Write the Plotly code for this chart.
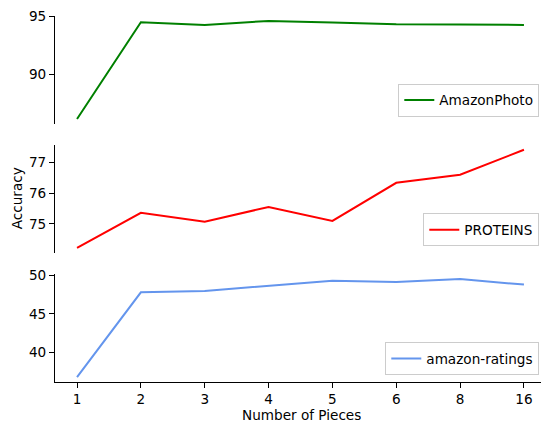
import plotly.graph_objects as go

pieces = ["1", "2", "3", "4", "5", "6", "8", "16"]
amazon_photo = [86.08, 94.51, 94.28, 94.63, 94.50, 94.34, 94.31, 94.28]
proteins = [74.23, 75.36, 75.07, 75.55, 75.10, 76.33, 76.59, 77.40]
amazon_ratings = [36.80, 47.80, 47.97, 48.66, 49.31, 49.14, 49.52, 48.80]

series = [
    ("AmazonPhoto", amazon_photo, "green", [90, 95]),
    ("PROTEINS", proteins, "red", [75, 76, 77]),
    ("amazon-ratings", amazon_ratings, "cornflowerblue", [40, 45, 50]),
]

FONT = "DejaVu Sans"
FS = 13.6

W, H = 541, 423
ML, MR, MT, MB = 55, 0, 16, 40.5
ph = H - MT - MB

def frac(px_from_top):
    return (H - MB - px_from_top) / ph

domains = [
    [frac(124), 1.0],
    [frac(253), frac(145)],
    [0.0, frac(274.5)],
]
legend_y = [frac(116.7), frac(246.7), frac(375.7)]

fig = go.Figure()
layout = dict(
    width=W, height=H,
    margin=dict(l=ML, r=MR, t=MT, b=MB),
    plot_bgcolor="white", paper_bgcolor="white",
    font=dict(family=FONT, size=FS, color="black"),
    showlegend=True,
)

xrange = [-0.345, 7.267]
for i, (name, vals, color, ticks) in enumerate(series):
    n = i + 1
    sfx = "" if n == 1 else str(n)
    lg = "legend" if n == 1 else f"legend{n}"
    fig.add_trace(go.Scatter(
        x=pieces, y=vals, mode="lines", name=name,
        line=dict(color=color, width=2),
        xaxis=f"x{sfx}", yaxis=f"y{sfx}", legend=lg,
    ))
    lo, hi = min(vals), max(vals)
    pad = 0.05 * (hi - lo)
    layout[f"yaxis{sfx}"] = dict(
        domain=domains[i], anchor=f"x{sfx}",
        range=[lo - pad, hi + pad],
        tickvals=ticks, showgrid=False, zeroline=False,
        showline=True, linecolor="black", linewidth=1.1,
        ticks="outside", ticklen=5, tickwidth=1.1, tickcolor="black",
        tickfont=dict(size=FS, color="black"),
    )
    xa = dict(
        domain=[0, 1], anchor=f"y{sfx}", type="category",
        categoryorder="array", categoryarray=pieces,
        range=xrange, showgrid=False, zeroline=False,
    )
    if n == 3:
        xa.update(showline=True, linecolor="black", linewidth=1.1,
                  ticks="outside", ticklen=5, tickwidth=1.1, tickcolor="black",
                  tickfont=dict(size=FS, color="black"))
    else:
        xa.update(visible=False)
    layout[f"xaxis{sfx}"] = xa
    layout[lg] = dict(
        x=(539.3 - ML) / (W - ML), y=legend_y[i],
        xanchor="right", yanchor="bottom",
        bgcolor="rgba(255,255,255,0.8)", bordercolor="#cccccc", borderwidth=1,
        font=dict(size=FS, color="black", family=FONT),
    )

layout["annotations"] = [
    dict(text="Accuracy", textangle=-90, xref="paper", yref="paper",
         x=(16.5 - ML) / (W - ML), y=frac(199), xanchor="center", yanchor="middle",
         showarrow=False, font=dict(size=FS, color="black")),
    dict(text="Number of Pieces", xref="paper", yref="paper",
         x=(301 - ML) / (W - ML), y=frac(416), xanchor="center", yanchor="middle",
         height=14, borderpad=0,
         showarrow=False, font=dict(size=FS, color="black")),
]

fig.update_layout(**layout)
fig.write_html(
    "out.html",
    config={"displayModeBar": False},
    post_script="document.body.style.margin='0';document.body.style.overflow='hidden';",
)
